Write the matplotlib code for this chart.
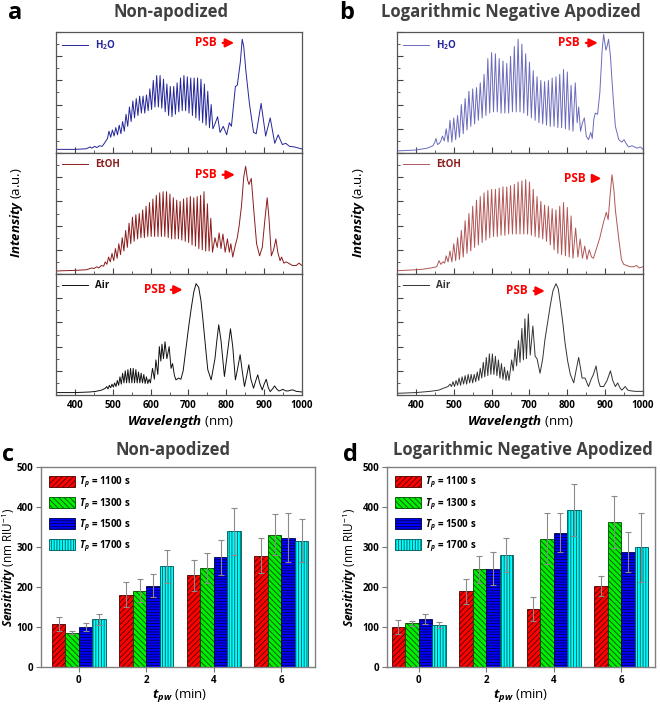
import numpy as np
import matplotlib
matplotlib.use('Agg')
import matplotlib.pyplot as plt
from matplotlib.ticker import MultipleLocator

# ---------------- spectra data (intensity normalised to panel height) ----------------
# each spectrum = leading part + fringe part (peaks / troughs) + trailing part
a_h2o_pre_wl = [350, 400, 430, 440, 445, 452, 458, 465, 472, 480, 486]
a_h2o_pre_i = [.03, .03, .035, .05, .04, .055, .045, .06, .055, .09, .12]
a_h2o_peaks = [.18, .19, .21, .23, .26, .32, .38, .43, .45, .47, .47, .48, .53, .60, .64, .64,
               .61, .57, .55, .55, .58, .62, .64, .63, .62, .62, .62, .61, .57, .51, .40]
a_h2o_troughs = [.13, .14, .15, .16, .18, .22, .26, .29, .31, .33, .33, .35, .36, .38, .38, .37,
                 .34, .31, .30, .32, .34, .35, .35, .33, .31, .29, .27, .25, .23, .21, .20]
a_h2o_post_wl = [770, 777, 783.5, 792, 801, 808, 813.5, 824, 829, 837, 842, 846, 852, 861, 872,
                 879, 892, 904, 916, 928, 937, 948, 957, 967, 980, 1000]
a_h2o_post_i = [.24, .30, .17, .22, .15, .25, .22, .55, .56, .75, .94, .88, .67, .41, .17, .16,
                .41, .14, .29, .08, .15, .07, .08, .055, .05, .033]

a_etoh_pre_wl = [350, 400, 430, 445, 450, 458, 463, 470, 476]
a_etoh_pre_i = [.025, .03, .035, .05, .045, .06, .05, .07, .065]
a_etoh_peaks = [.10, .14, .17, .21, .25, .30, .36, .42, .47, .49, .50, .53, .56, .59, .62, .65,
                .67, .68, .68, .66, .63, .61, .60, .62, .63, .64, .63, .64, .65, .68, .58, .46]
a_etoh_troughs = [.08, .10, .11, .13, .16, .19, .22, .25, .27, .29, .30, .30, .31, .31, .31, .31,
                  .31, .31, .30, .29, .29, .29, .28, .27, .26, .24, .23, .21, .20, .19, .19, .18]
a_etoh_post_wl = [770, 776, 781, 786, 791, 797, 803, 808, 812, 817, 824, 829, 834, 840, 846, 851,
                  856, 860, 866, 872, 880, 888, 895, 902, 908, 913, 919, 925, 931, 936, 942, 946,
                  952, 958, 964, 975, 985, 992, 1000]
a_etoh_post_i = [.30, .22, .34, .21, .33, .18, .29, .18, .25, .14, .24, .30, .40, .56, .80, .89,
                 .78, .74, .79, .55, .25, .15, .22, .45, .63, .45, .15, .20, .29, .18, .11, .14,
                 .09, .10, .09, .07, .07, .09, .07]

a_air_pre_wl = [350, 400, 440, 455, 470, 480]
a_air_pre_i = [.02, .02, .025, .03, .04, .055]
a_air_peaks = [.07, .08, .09, .10, .12, .15, .18, .20, .21, .22, .22, .21, .19, .18, .17, .15, .13]
a_air_troughs = [.05, .06, .065, .07, .08, .09, .10, .10, .10, .10, .10, .10, .10, .10, .095, .095, .10]
a_air_post_wl = [605, 610, 614, 619, 623, 627, 630, 634, 638, 643, 649, 654, 658, 663, 667, 674,
                 680, 686, 693, 700, 707, 714, 720, 727, 733, 738, 745, 751, 760, 770, 775, 780,
                 786, 795, 803, 811, 817, 824, 830, 836.5, 842, 848, 854, 859.5, 865, 872, 877,
                 883, 889, 895, 900, 905.5, 911, 916, 922, 927.6, 933, 939, 945, 949.7, 956, 963,
                 970, 976, 985, 1000]
a_air_post_i = [.22, .13, .29, .17, .40, .28, .42, .30, .44, .30, .40, .22, .26, .16, .125, .14,
                .13, .20, .375, .55, .71, .85, .92, .89, .78, .63, .40, .21, .125, .30, .45, .58,
                .45, .153, .35, .547, .40, .125, .22, .333, .20, .07, .16, .25, .13, .056, .11,
                .167, .09, .042, .09, .13, .06, .028, .05, .075, .05, .033, .04, .047, .035, .033,
                .04, .042, .03, .025]

b_h2o_pre_wl = [350, 400, 430, 445, 450, 453, 457, 462, 466]
b_h2o_pre_i = [.017, .025, .04, .06, .09, .12, .07, .08, .10]
b_h2o_peaks = [.14, .20, .27, .29, .31, .40, .45, .51, .53, .54, .58, .65, .78, .83, .82, .78,
               .76, .74, .80, .88, .94, .90, .82, .75, .68, .63, .60, .59, .60, .62, .63, .65,
               .69, .67, .56]
b_h2o_troughs = [.10, .09, .09, .11, .13, .16, .19, .22, .24, .27, .29, .31, .33, .34, .34, .33,
                 .33, .33, .34, .34, .34, .33, .31, .29, .27, .25, .24, .23, .22, .22, .21, .21,
                 .20, .19, .18]
b_h2o_post_wl = [821, 826, 830, 835, 840, 845, 850, 856, 862, 866, 870, 874, 880, 886, 892, 896,
                 902, 905, 909, 914, 918, 923, 927, 936, 944, 950, 955, 962, 971, 984, 993, 1000]
b_h2o_post_i = [.58, .25, .38, .18, .25, .29, .14, .11, .17, .12, .28, .33, .32, .50, .85, .98,
                .85, .88, .94, .80, .60, .38, .22, .11, .09, .11, .08, .05, .06, .04, .05, .03]

b_etoh_pre_wl = [350, 400, 420, 440, 455, 461, 466, 472, 476]
b_etoh_pre_i = [.027, .035, .04, .05, .06, .11, .08, .10, .09]
b_etoh_peaks = [.15, .19, .25, .30, .36, .44, .50, .56, .61, .64, .67, .69, .70, .70, .71, .72,
                .72, .73, .74, .76, .77, .78, .76, .70, .64, .60, .57, .56, .54, .53, .56, .59,
                .55, .48]
b_etoh_troughs = [.10, .10, .11, .12, .14, .17, .19, .22, .24, .26, .28, .30, .31, .31, .32, .32,
                  .33, .33, .33, .33, .33, .33, .32, .31, .30, .29, .27, .24, .20, .17, .16, .15,
                  .14, .13]
b_etoh_post_wl = [822, 828, 834, 840, 846, 852, 858, 864, 869, 876, 886, 895, 903, 908, 913, 918,
                  923, 927, 936, 943, 949, 957, 965, 975, 983, 990, 1000]
b_etoh_post_i = [.38, .14, .29, .13, .23, .12, .20, .14, .13, .20, .30, .42, .51, .45, .65, .82,
                 .70, .53, .29, .12, .08, .07, .06, .06, .07, .05, .06]

b_air_pre_wl = [350, 400, 437, 460, 472, 485]
b_air_pre_i = [.014, .02, .03, .04, .055, .07]
b_air_peaks = [.09, .11, .12, .14, .15, .16, .17, .17, .17, .19, .22, .27, .31, .34, .34, .32,
               .29, .26, .23, .20]
b_air_troughs = [.07, .07, .08, .08, .09, .09, .10, .10, .11, .12, .14, .15, .16, .17, .17, .16,
                 .14, .13, .12, .12]
b_air_post_wl = [653, 657, 662, 666, 671, 675, 680, 684, 688, 692, 697, 702, 709, 715, 720, 728,
                 735, 741, 748, 755, 762, 770, 776, 781, 788, 794, 801, 808, 817, 823, 830, 835,
                 839, 847, 856, 863, 869, 876, 882, 887, 896, 905, 914, 920, 927, 933, 939, 944,
                 953, 960, 966, 980, 1000]
b_air_post_i = [.29, .20, .38, .24, .45, .27, .55, .29, .63, .30, .67, .33, .57, .32, .30, .18,
                .30, .46, .60, .74, .86, .92, .88, .77, .60, .43, .28, .17, .10, .20, .31, .22,
                .14, .14, .07, .13, .17, .24, .12, .07, .07, .12, .20, .12, .07, .10, .06, .04,
                .07, .04, .035, .03, .03]

# ---------------- sensitivity data ----------------
tpw_labels = ['0', '2', '4', '6']
tp_labels = ['1100', '1300', '1500', '1700']
c_1100 = [107, 181, 229, 278]
c_1300 = [86, 191, 248, 331]
c_1500 = [100, 203, 274, 323]
c_1700 = [119, 252, 339, 316]
c_1100_err = [18, 32, 38, 44]
c_1300_err = [3, 28, 37, 51]
c_1500_err = [10, 29, 43, 61]
c_1700_err = [13, 41, 59, 53]
d_1100 = [100, 189, 144, 202]
d_1300 = [109, 244, 321, 363]
d_1500 = [120, 246, 336, 287]
d_1700 = [105, 280, 392, 299]
d_1100_err = [17, 31, 30, 25]
d_1300_err = [6, 33, 63, 65]
d_1500_err = [13, 41, 49, 50]
d_1700_err = [8, 43, 65, 87]

plt.rcParams['font.family'] = 'Open Sans'
plt.rcParams['mathtext.fontset'] = 'custom'
plt.rcParams['mathtext.rm'] = 'Open Sans'
plt.rcParams['mathtext.it'] = 'Open Sans:italic'
plt.rcParams['mathtext.bf'] = 'Open Sans:bold'
plt.rcParams['mathtext.bfit'] = 'Open Sans:bold:italic'
plt.rcParams['hatch.linewidth'] = 0.6

W, H = 660, 709
fig = plt.figure(figsize=(W / 100, H / 100), dpi=100)


def px_axes(x0, y0, x1, y1):
    return fig.add_axes([x0 / W, 1 - y1 / H, (x1 - x0) / W, (y1 - y0) / H])


def fringes(start, period, peaks, troughs):
    wl, it = [], []
    for k, (p, t) in enumerate(zip(peaks, troughs)):
        wl += [start + k * period, start + k * period + period / 2]
        it += [p, t]
    return wl, it


def spectrum(ax, pre, fr, post, color, label, psb, bottom):
    fwl, fit = fringes(*fr)
    wl = pre[0] + fwl + post[0]
    it = pre[1] + fit + post[1]
    ax.plot(wl, it, color=color, lw=0.7, label=label)
    ax.set_xlim(350, 1000)
    ax.set_ylim(0, 1)
    ax.xaxis.set_major_locator(MultipleLocator(100))
    ax.xaxis.set_minor_locator(MultipleLocator(50))
    ax.yaxis.set_major_locator(MultipleLocator(0.2))
    ax.yaxis.set_minor_locator(MultipleLocator(0.1))
    ax.tick_params(which='both', direction='in', top=False, right=False,
                   labelleft=False, labelbottom=bottom, color='#444444')
    ax.tick_params(which='major', length=4, width=0.8, labelsize=7)
    ax.tick_params(which='minor', length=2, width=0.6)
    for t in ax.get_xticklabels():
        t.set_fontweight('bold')
    for s in ax.spines.values():
        s.set_color('#555555')
        s.set_linewidth(0.9)
    leg = ax.legend(loc='upper left', frameon=False, handlelength=2.6, fontsize=7,
                    borderaxespad=0.25, prop={'weight': 'bold', 'size': 7})
    for t in leg.get_texts():
        t.set_color(color)
    tx, ty, a0, a1 = psb
    ax.text(tx, ty, 'PSB', color='red', fontsize=8.5, fontweight='bold', ha='center', va='center')
    ax.annotate('', xy=(a1, ty), xytext=(a0, ty),
                arrowprops=dict(arrowstyle='-|>,head_length=0.5,head_width=0.25', color='red', lw=1.6))


# panel a
top = [32, 153, 274, 395]
ax = px_axes(56, top[0], 302, top[1])
spectrum(ax, (a_h2o_pre_wl, a_h2o_pre_i), (490, 9, a_h2o_peaks, a_h2o_troughs),
         (a_h2o_post_wl, a_h2o_post_i), '#25259a', r'H$_\mathbf{2}$O', (746, .91, 783, 828), False)
ax = px_axes(56, top[1], 302, top[2])
spectrum(ax, (a_etoh_pre_wl, a_etoh_pre_i), (480, 9, a_etoh_peaks, a_etoh_troughs),
         (a_etoh_post_wl, a_etoh_post_i), '#8b1c1c', 'EtOH', (746, .82, 783, 830), False)
ax = px_axes(56, top[2], 302, top[3])
spectrum(ax, (a_air_pre_wl, a_air_pre_i), (484, 7, a_air_peaks, a_air_troughs),
         (a_air_post_wl, a_air_post_i), '#111111', 'Air', (610, .87, 646, 692), True)

# panel b
ax = px_axes(397, top[0], 643, top[1])
spectrum(ax, (b_h2o_pre_wl, b_h2o_pre_i), (470, 10, b_h2o_peaks, b_h2o_troughs),
         (b_h2o_post_wl, b_h2o_post_i), '#6b6bbd', r'H$_\mathbf{2}$O', (804, .91, 842, 888), False)
ax.get_legend().get_texts()[0].set_color('#25259a')
ax = px_axes(397, top[1], 643, top[2])
spectrum(ax, (b_etoh_pre_wl, b_etoh_pre_i), (480, 10, b_etoh_peaks, b_etoh_troughs),
         (b_etoh_post_wl, b_etoh_post_i), '#b25555', 'EtOH', (820, .79, 858, 897), False)
ax.get_legend().get_texts()[0].set_color('#8b1c1c')
ax = px_axes(397, top[2], 643, top[3])
spectrum(ax, (b_air_pre_wl, b_air_pre_i), (490, 8, b_air_peaks, b_air_troughs),
         (b_air_post_wl, b_air_post_i), '#333333', 'Air', (667, .86, 704, 748), True)


def bars(ax, vals, errs):
    x = np.arange(len(tpw_labels))
    w = 0.2
    fcs = ['#ff0000', '#00ee00', '#0000ff', '#00ffff']
    ecs = ['#4a0000', '#004a00', '#00004a', '#005555']
    hatches = ['//////', '\\\\\\\\\\\\', '------', '||||||']
    for k in range(4):
        ax.bar(x + (k - 1.5) * w, vals[k], w, color=fcs[k], edgecolor=ecs[k], hatch=hatches[k],
               lw=0.6, label=r'$\mathbfit{T}_{\mathbfit{p}}$ = ' + tp_labels[k] + ' s',
               yerr=errs[k], error_kw=dict(ecolor='#8a8a8a', elinewidth=0.8, capsize=2, capthick=0.8))
    ax.set_ylim(0, 500)
    ax.set_xticks(x)
    ax.set_xticklabels(tpw_labels)
    ax.yaxis.set_major_locator(MultipleLocator(100))
    ax.tick_params(which='both', direction='out', color='#777777', labelsize=7, pad=2)
    ax.tick_params(which='major', length=3.5)
    for t in ax.get_xticklabels() + ax.get_yticklabels():
        t.set_fontweight('bold')
    for s in ax.spines.values():
        s.set_color('#808080')
        s.set_linewidth(1)
    ax.legend(loc='upper left', frameon=False, fontsize=7, prop={'weight': 'bold', 'size': 7},
              handlelength=2.7, handleheight=1.35, labelspacing=0.55, borderaxespad=0.4,
              handletextpad=0.4)


ax = px_axes(41, 467, 315, 667)
bars(ax, [c_1100, c_1300, c_1500, c_1700], [c_1100_err, c_1300_err, c_1500_err, c_1700_err])
ax.set_xlim(-0.56, 3.5)
ax = px_axes(387, 467, 655, 667)
bars(ax, [d_1100, d_1300, d_1500, d_1700], [d_1100_err, d_1300_err, d_1500_err, d_1700_err])
ax.set_xlim(-0.47, 3.5)

# labels and titles
def ftext(x, y, s, **kw):
    fig.text(x / W, 1 - y / H, s, **kw)


for x, y, s in [(15, 13, 'a'), (347, 13, 'b'), (8, 455, 'c'), (350, 455, 'd')]:
    ftext(x, y, s, fontsize=17, fontweight='bold', ha='center', va='center')
title_kw = dict(fontsize=12, fontweight='bold', color='#404040', ha='center', va='center')
ftext(171, 12, 'Non-apodized', **title_kw)
ftext(511, 12, 'Logarithmic Negative Apodized', **title_kw)
ftext(173, 450, 'Non-apodized', **title_kw)
ftext(523, 450, 'Logarithmic Negative Apodized', **title_kw)

lab_kw = dict(fontsize=9.5, ha='center', va='center')
ftext(17, 213, r'$\mathbfit{Intensity}$ (a.u.)', rotation=90, **lab_kw)
ftext(358, 213, r'$\mathbfit{Intensity}$ (a.u.)', rotation=90, **lab_kw)
ftext(180, 422, r'$\mathbfit{Wavelength}$ (nm)', **lab_kw)
ftext(520, 422, r'$\mathbfit{Wavelength}$ (nm)', **lab_kw)
ftext(9, 567, r'$\mathbfit{Sensitivity}$ (nm RIU$^{-1}$)', rotation=90, fontsize=8.5, ha='center', va='center')
ftext(350, 567, r'$\mathbfit{Sensitivity}$ (nm RIU$^{-1}$)', rotation=90, fontsize=8.5, ha='center', va='center')
ftext(180, 695, r'$\mathbfit{t}_{\mathbfit{pw}}$ (min)', **lab_kw)
ftext(521, 695, r'$\mathbfit{t}_{\mathbfit{pw}}$ (min)', **lab_kw)

fig.savefig('out.png', dpi=100)
